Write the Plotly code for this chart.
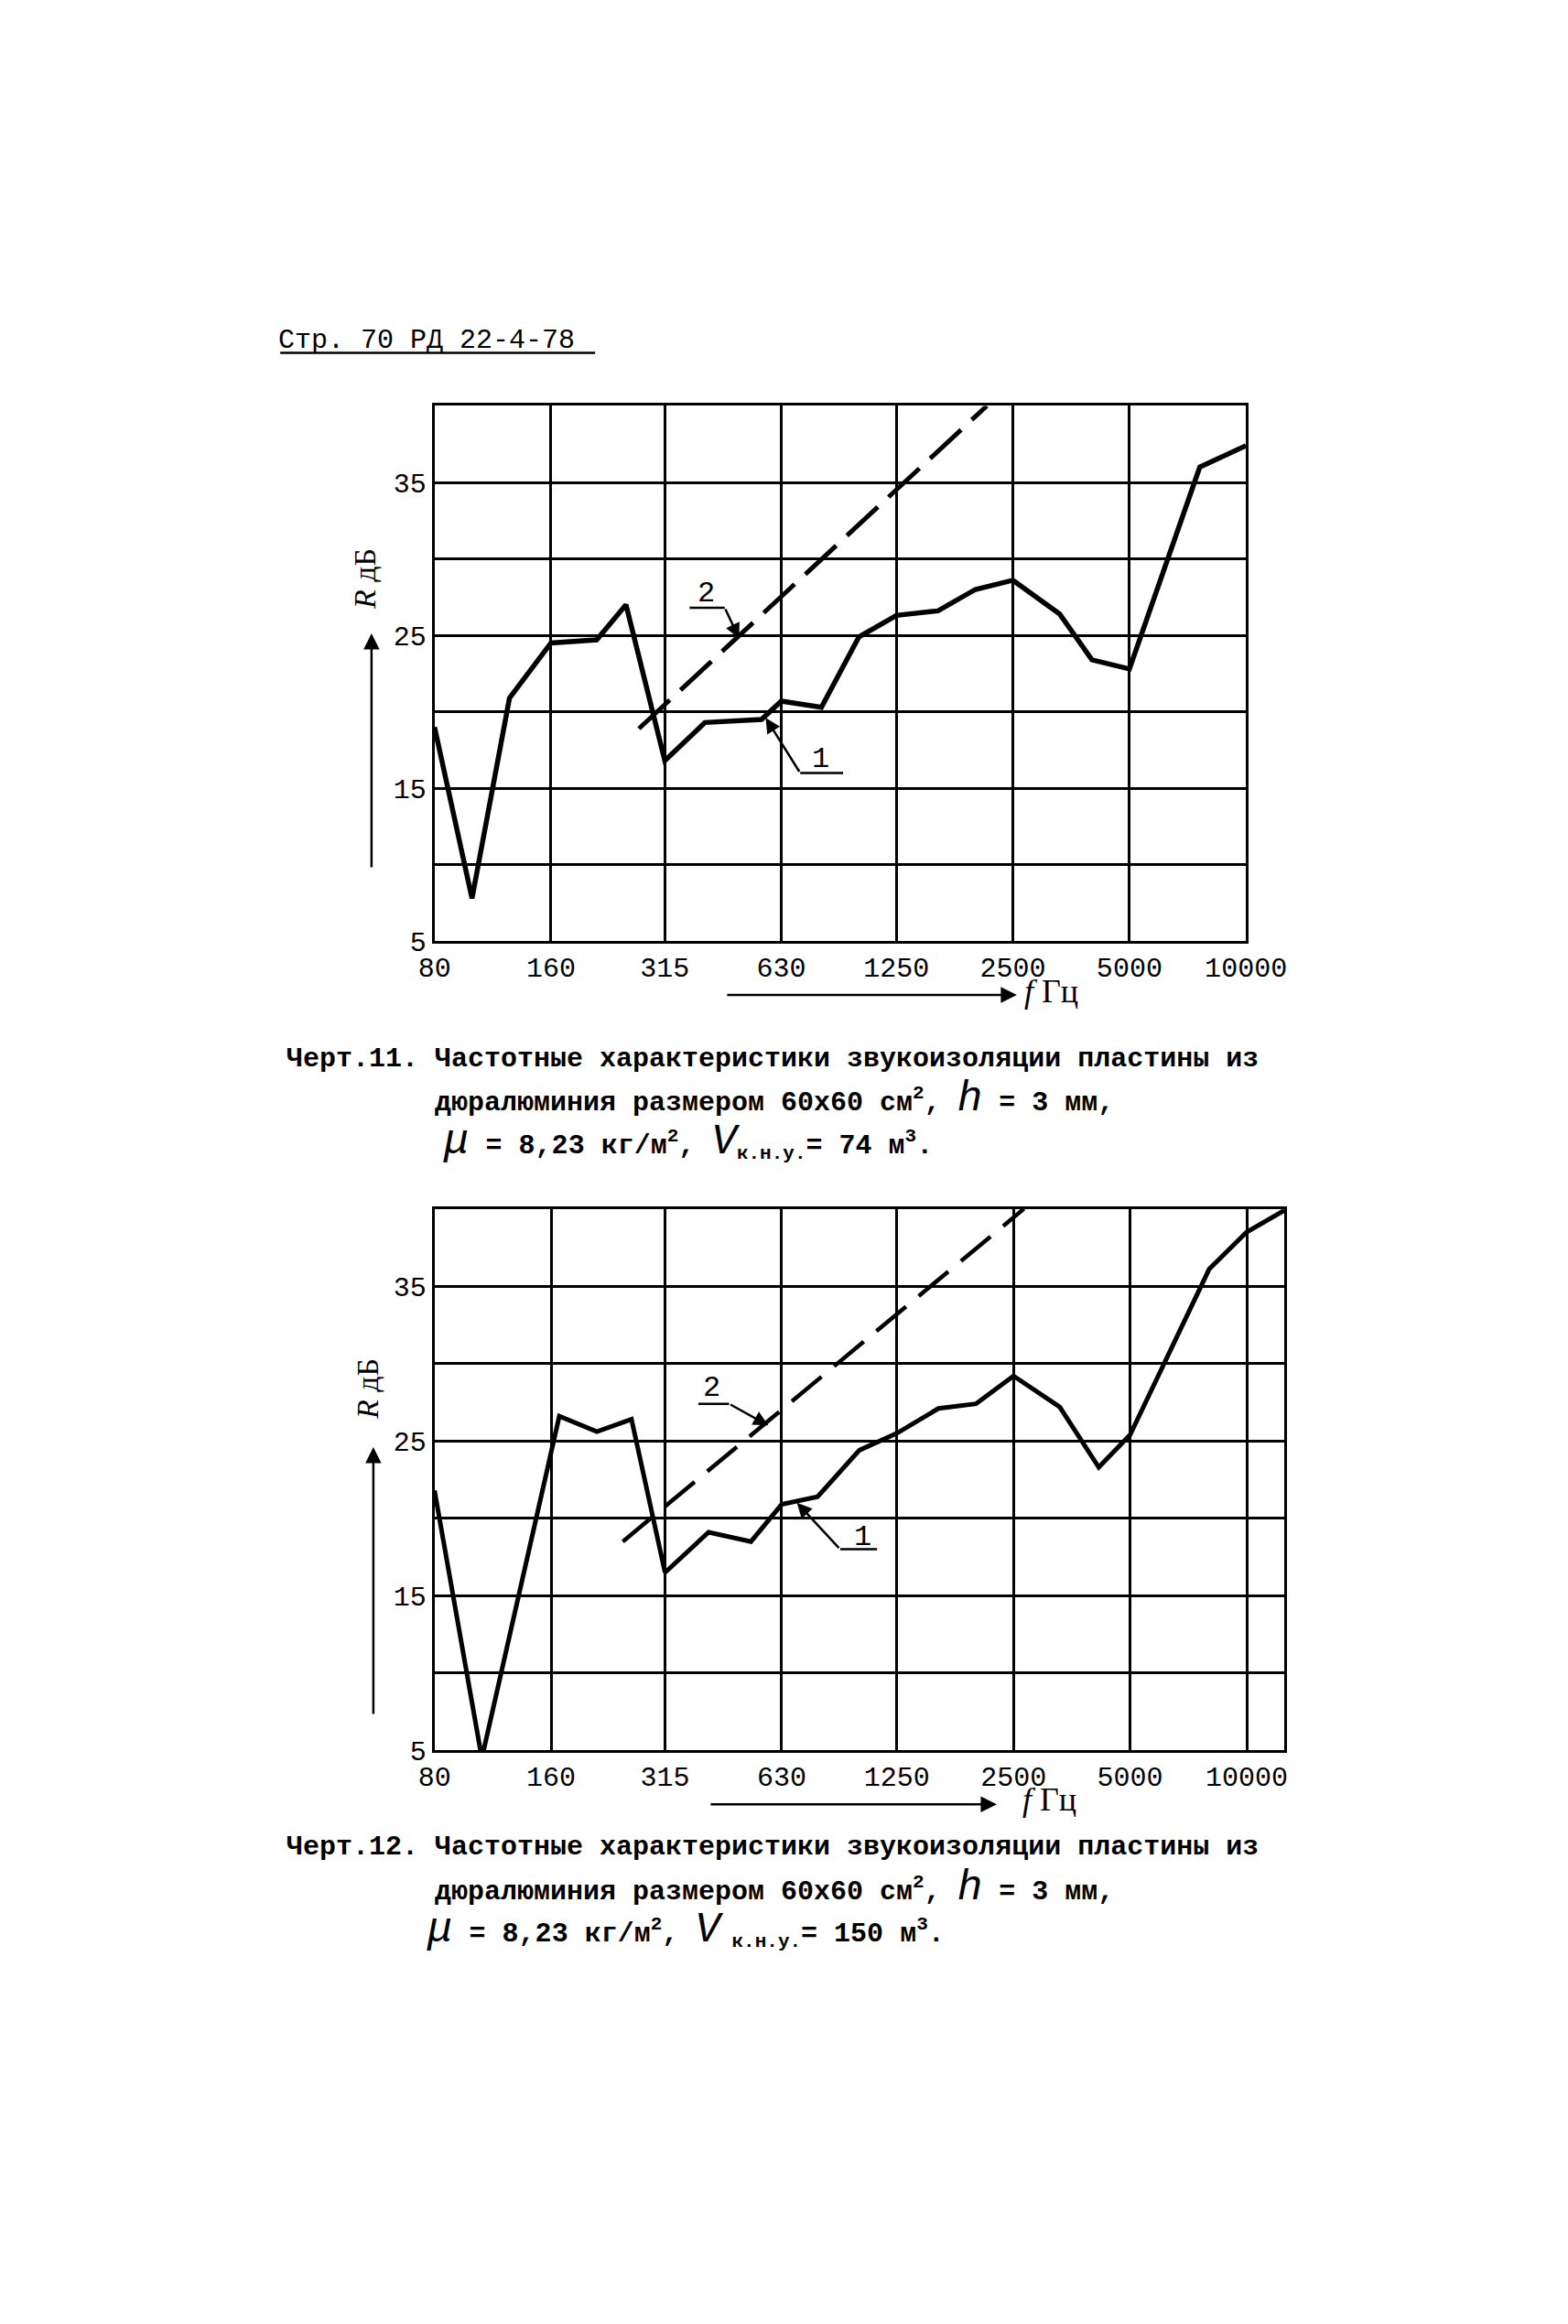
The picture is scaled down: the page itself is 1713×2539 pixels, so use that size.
import math
import plotly.graph_objects as go

# ---------------- data ----------------
freq_ticks = [80, 160, 315, 630, 1250, 2500, 5000, 10000]
freq_tick_labels = ["80", "160", "315", "630", "1250", "2500", "5000", "10000"]
r_ticks = [5, 10, 15, 20, 25, 30, 35, 40]
r_tick_labels = ["5", "", "15", "", "25", "", "35", ""]

# Черт.11 (V = 74 m3): curve 1 (measured), line 2 (dashed)
f1_curve = [80, 100, 125, 160, 210, 250, 315, 400, 560, 630, 800, 1000, 1250,
            1600, 2000, 2500, 3300, 4000, 5000, 7600, 10000]
r1_curve = [19.0, 7.8, 20.9, 24.5, 24.7, 27.0, 16.8, 19.3, 19.5, 20.7, 20.3, 24.9, 26.3,
            26.6, 28.0, 28.6, 26.4, 23.4, 22.8, 36.0, 37.4]
f1_line2 = [270, 2140]
r1_line2 = [18.9, 40.0]

# Черт.12 (V = 150 m3)
f2_curve = [80, 106, 168, 210, 258, 315, 408, 525, 630, 780, 1000, 1250,
            1600, 2000, 2500, 3290, 4150, 5000, 8000, 10000, 12500]
r2_curve = [21.8, 4.5, 26.6, 25.6, 26.4, 16.5, 19.1, 18.5, 20.9, 21.4, 24.4, 25.5,
            27.1, 27.4, 29.2, 27.2, 23.3, 25.4, 36.1, 38.5, 39.9]
f2_line2 = [245, 2660]
r2_line2 = [18.5, 40.0]

x1_range = [80, 10000]
x2_range = [80, 12500]
y_range = [5, 40]

# ---------------- layout helpers ----------------
W, H = 1713, 2539
# calibration of paper coordinates to the rendered page
XS, XO = 0.966, 14.0
YS, YO = 0.9942, -3.4

def px(x):
    return (x - XO) / XS / W

def py(y):
    return 1 - (y - YO) / YS / H

MONO = "Liberation Mono"
SERIF = "Liberation Serif"
BLACK = "black"

fig = go.Figure()

fig.add_trace(go.Scatter(x=f1_curve, y=r1_curve, mode="lines", xaxis="x", yaxis="y",
                         line=dict(color=BLACK, width=5.5), showlegend=False))
fig.add_trace(go.Scatter(x=f1_line2, y=r1_line2, mode="lines", xaxis="x", yaxis="y",
                         line=dict(color=BLACK, width=5, dash="46px,16px"), showlegend=False))
fig.add_trace(go.Scatter(x=f2_curve, y=r2_curve, mode="lines", xaxis="x2", yaxis="y2",
                         line=dict(color=BLACK, width=5), showlegend=False))
fig.add_trace(go.Scatter(x=f2_line2, y=r2_line2, mode="lines", xaxis="x2", yaxis="y2",
                         line=dict(color=BLACK, width=4.5, dash="42px,18px"), showlegend=False))

def xaxis_cfg(rng, dom, anchor):
    return dict(type="log", range=[math.log10(rng[0]), math.log10(rng[1])], domain=dom,
                anchor=anchor, tickvals=freq_ticks, ticktext=freq_tick_labels,
                showgrid=True, gridcolor=BLACK, gridwidth=3, zeroline=False,
                showline=True, linecolor=BLACK, linewidth=3, mirror=True, ticks="",
                tickfont=dict(family=MONO, size=30, color=BLACK))

def yaxis_cfg(dom, anchor):
    return dict(range=y_range, domain=dom, anchor=anchor, tickvals=r_ticks,
                ticktext=r_tick_labels, showgrid=True, gridcolor=BLACK, gridwidth=2.5,
                zeroline=False, showline=True, linecolor=BLACK, linewidth=3, mirror=True,
                ticks="", tickfont=dict(family=MONO, size=30, color=BLACK))

annotations = []
shapes = []

# page header
annotations.append(dict(text="Стр. 70 РД 22-4-78", x=px(299), y=py(369), xref="paper", yref="paper",
                        xanchor="left", yanchor="middle", showarrow=False,
                        font=dict(family=MONO, size=30, color=BLACK)))
shapes.append(dict(type="line", xref="paper", yref="paper", x0=px(303), x1=px(648),
                   y0=py(383), y1=py(383), line=dict(color=BLACK, width=2.5)))

def chart_decor(xa, ya, label1, label2, rtext_xy, rarrow, farrow, ftext_xy):
    (l2x, l2y, u2a, u2b, u2y, a2x, a2y) = label2
    (l1x, l1y, u1a, u1b, u1y, a1x, a1y) = label1
    # label "2" with leader to the dashed line
    annotations.append(dict(text="2", x=math.log10(l2x), y=l2y, xref=xa, yref=ya, showarrow=False,
                            font=dict(family=MONO, size=32, color=BLACK)))
    shapes.append(dict(type="line", xref=xa, yref=ya, x0=u2a, x1=u2b, y0=u2y, y1=u2y,
                       line=dict(color=BLACK, width=2.5)))
    annotations.append(dict(text="", x=math.log10(a2x), y=a2y, xref=xa, yref=ya,
                            ax=math.log10(u2b), ay=u2y, axref=xa, ayref=ya, showarrow=True,
                            arrowhead=2, arrowsize=1.3, arrowwidth=2.5, arrowcolor=BLACK))
    # label "1" with leader to the solid curve
    annotations.append(dict(text="1", x=math.log10(l1x), y=l1y, xref=xa, yref=ya, showarrow=False,
                            font=dict(family=MONO, size=32, color=BLACK)))
    shapes.append(dict(type="line", xref=xa, yref=ya, x0=u1a, x1=u1b, y0=u1y, y1=u1y,
                       line=dict(color=BLACK, width=2.5)))
    annotations.append(dict(text="", x=math.log10(a1x), y=a1y, xref=xa, yref=ya,
                            ax=math.log10(u1a), ay=u1y, axref=xa, ayref=ya, showarrow=True,
                            arrowhead=2, arrowsize=1.3, arrowwidth=2.5, arrowcolor=BLACK))
    # R dB title + upward arrow
    annotations.append(dict(text="<i>R</i> дБ", x=px(rtext_xy[0]), y=py(rtext_xy[1]), xref="paper",
                            yref="paper", xanchor="center", yanchor="middle", textangle=-90,
                            showarrow=False, font=dict(family=SERIF, size=34, color=BLACK)))
    annotations.append(dict(text="", x=px(rarrow[0]), y=py(rarrow[1]), xref="paper", yref="paper",
                            ax=0, ay=rarrow[2], showarrow=True, arrowhead=2, arrowsize=1.4,
                            arrowwidth=2.5, arrowcolor=BLACK))
    # f Hz arrow + title
    annotations.append(dict(text="", x=px(farrow[0]), y=py(farrow[1]), xref="paper", yref="paper",
                            ax=-farrow[2], ay=0, showarrow=True, arrowhead=2, arrowsize=1.4,
                            arrowwidth=2.5, arrowcolor=BLACK))
    annotations.append(dict(text="<i>f</i> Гц", x=px(ftext_xy[0]), y=py(ftext_xy[1]), xref="paper",
                            yref="paper", xanchor="left", yanchor="middle", showarrow=False,
                            font=dict(family=SERIF, size=36, color=BLACK)))

chart_decor("x", "y",
            label1=(796, 16.9, 705, 910, 16.0, 574, 19.6),
            label2=(404, 27.7, 365, 450, 26.8, 490, 24.8),
            rtext_xy=(395, 630), rarrow=(403, 690, 257), farrow=(1110, 1086, 318),
            ftext_xy=(1116, 1082))
chart_decor("x2", "y2",
            label1=(1020, 18.8, 892, 1111, 18.0, 690, 21.0),
            label2=(415, 28.4, 384, 461, 27.4, 582, 26.0),
            rtext_xy=(398, 1517), rarrow=(405, 1581, 293), farrow=(1088, 1972, 314),
            ftext_xy=(1114, 1967))

def caption(lines_xy, texts):
    for (x, y), t in zip(lines_xy, texts):
        annotations.append(dict(text=t, x=px(x), y=py(y), xref="paper", yref="paper",
                                xanchor="left", yanchor="middle", showarrow=False,
                                font=dict(family=MONO, size=30, color=BLACK)))

big = "<span style='font-size:46px'><i>{}</i></span>"
caption([(308, 1156), (470, 1200), (479, 1247)],
        ["<b>Черт.11. Частотные характеристики звукоизоляции пластины из</b>",
         "<b>дюралюминия размером 60х60 см<sup>2</sup>, </b>" + big.format("h") + "<b> = 3 мм,</b>",
         big.format("μ") + "<b> = 8,23 кг/м<sup>2</sup>, </b>" + big.format("V") +
         "<b><sub>к.н.у.</sub>= 74 м<sup>3</sup>.</b>"])
caption([(308, 2019), (470, 2064), (461, 2110)],
        ["<b>Черт.12. Частотные характеристики звукоизоляции пластины из</b>",
         "<b>дюралюминия размером 60х60 см<sup>2</sup>, </b>" + big.format("h") + "<b> = 3 мм,</b>",
         big.format("μ") + "<b> = 8,23 кг/м<sup>2</sup>, </b>" + big.format("V") +
         "<b><sub> к.н.у.</sub>= 150 м<sup>3</sup>.</b>"])

fig.update_layout(
    width=W, height=H, margin=dict(l=0, r=0, t=0, b=0),
    paper_bgcolor="white", plot_bgcolor="white", showlegend=False,
    xaxis=xaxis_cfg(x1_range, [px(472), px(1361)], "y"),
    yaxis=yaxis_cfg([py(1027), py(441)], "x"),
    xaxis2=xaxis_cfg(x2_range, [px(472), px(1403)], "y2"),
    yaxis2=yaxis_cfg([py(1913), py(1320)], "x2"),
    annotations=annotations, shapes=shapes,
)

fig.write_html("out.html")
